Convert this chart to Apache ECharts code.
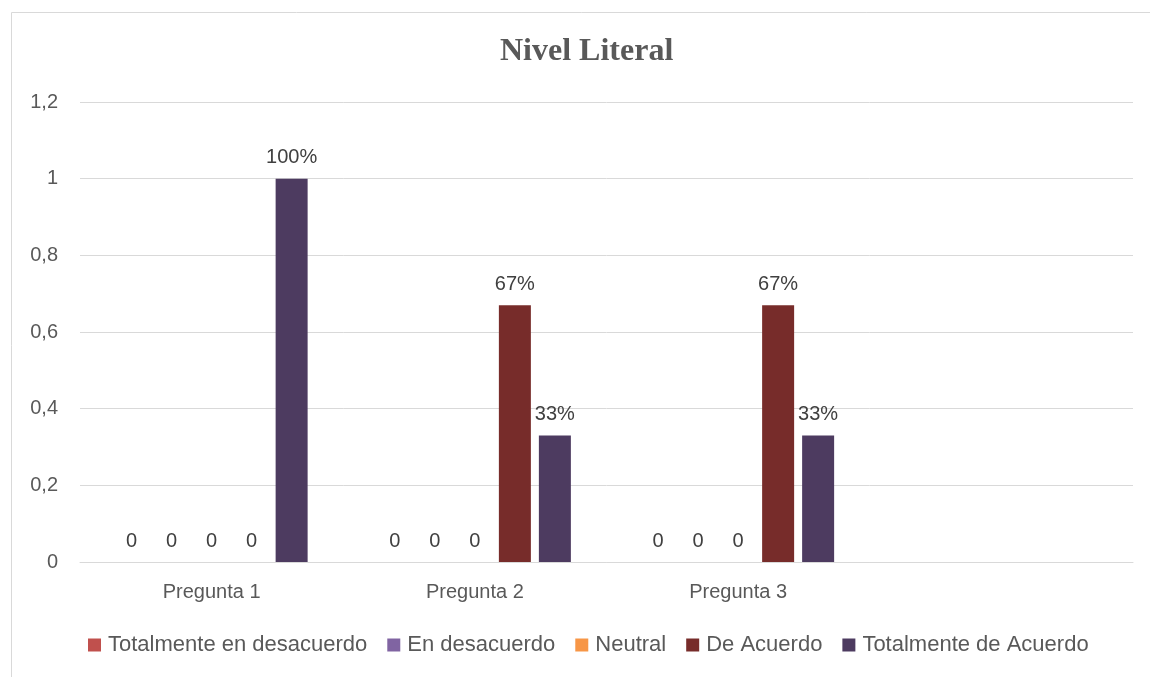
<!DOCTYPE html>
<html><head><meta charset="utf-8">
<script src="https://cdn.jsdelivr.net/npm/echarts@6/dist/echarts.min.js"></script>
<style>html,body{margin:0;padding:0;background:#fff}#c{width:1150px;height:677px}</style>
</head><body><div id="c"></div>
<script>
const categories = ['Pregunta 1', 'Pregunta 2', 'Pregunta 3', ''];
const seriesNames = ['Totalmente en desacuerdo', 'En desacuerdo', 'Neutral', 'De Acuerdo', 'Totalmente de Acuerdo'];
const totDesacuerdo = [0, 0, 0, null];
const enDesacuerdo = [0, 0, 0, null];
const neutral = [0, 0, 0, null];
const deAcuerdo = [0, 0.67, 0.67, null];
const totAcuerdo = [1, 0.33, 0.33, null];
const colors = ['#C0504D', '#8064A2', '#F79646', '#772C2A', '#4D3B60'];
const values = [totDesacuerdo, enDesacuerdo, neutral, deAcuerdo, totAcuerdo];

const font = 'Liberation Sans, Arial, sans-serif';
const chart = echarts.init(document.getElementById('c'));
chart.setOption({
  animation: false,
  color: colors,
  title: {
    text: 'Nivel Literal', left: 495, top: 31, padding: 5,
    textStyle: {fontFamily: 'Liberation Serif, Times New Roman, serif', fontWeight: 'bold', fontSize: 32, color: '#595959'}
  },
  graphic: [{type: 'rect', shape: {x: 11.5, y: 12.5, width: 1200, height: 700}, style: {fill: 'none', stroke: '#d9d9d9', lineWidth: 1}, silent: true}],
  legend: {
    bottom: 16, left: 83, itemWidth: 13, itemHeight: 13, itemGap: 20,
    icon: 'rect',
    textStyle: {fontFamily: font, fontSize: 22, color: '#595959', padding: [0, 0, 0, 2]},
    data: seriesNames
  },
  grid: {left: 80, right: 17, top: 102, bottom: 115},
  xAxis: {
    type: 'category', data: categories,
    axisLine: {lineStyle: {color: '#d9d9d9'}}, axisTick: {show: false},
    axisLabel: {fontFamily: font, fontSize: 20, color: '#595959', margin: 20}
  },
  yAxis: {
    type: 'value', min: 0, max: 1.2, interval: 0.2,
    axisLine: {show: false}, axisTick: {show: false},
    splitLine: {lineStyle: {color: '#d9d9d9'}},
    axisLabel: {fontFamily: font, fontSize: 20, color: '#595959', margin: 22,
      formatter: v => String(Math.round(v * 10) / 10).replace('.', ',')}
  },
  series: seriesNames.map((n, i) => ({
    name: n, type: 'bar', data: values[i], barWidth: 32, barGap: '25%',
    label: {show: true, position: 'top', distance: 11, fontFamily: font, fontSize: 20, color: '#404040',
      formatter: p => p.value === 0 ? '0' : Math.round(p.value * 100) + '%'}
  }))
});
</script></body></html>
